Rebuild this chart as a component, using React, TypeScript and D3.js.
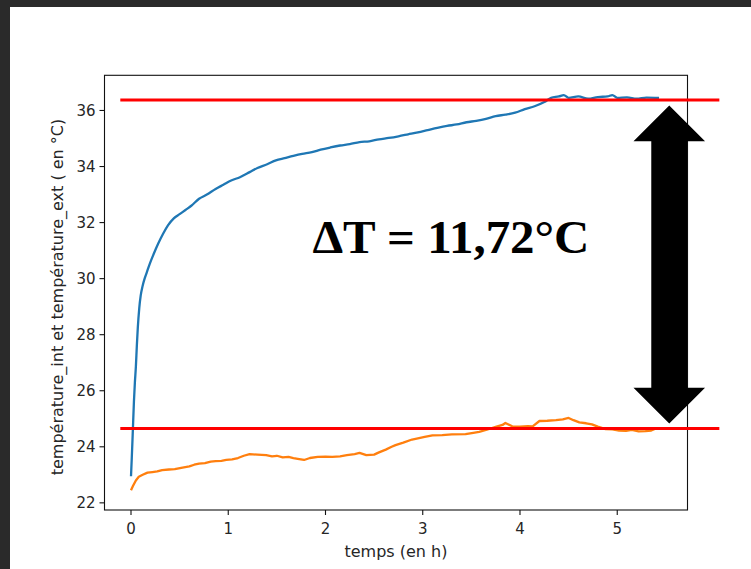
import React from "react";
import * as d3 from "d3";

const W = 751;
const H = 569;

// time (h) and temperatures (°C)
const blueT = [0, 0.008, 0.017, 0.03, 0.04, 0.05, 0.06, 0.07, 0.085, 0.1, 0.12, 0.14, 0.16, 0.19, 0.23, 0.28, 0.33, 0.38, 0.44, 0.5, 0.56, 0.62, 0.7, 0.78, 0.87, 0.95, 1.03, 1.12, 1.22, 1.3, 1.4, 1.49, 1.58, 1.67, 1.76, 1.86, 1.95, 2.05, 2.15, 2.25, 2.35, 2.45, 2.55, 2.65, 2.75, 2.85, 2.95, 3.05, 3.15, 3.25, 3.35, 3.45, 3.55, 3.65, 3.75, 3.85, 3.95, 4.05, 4.15, 4.25, 4.32, 4.4, 4.45, 4.5, 4.6, 4.7, 4.8, 4.9, 4.95, 5.0, 5.1, 5.2, 5.3, 5.43];
const blueV = [22.95, 23.6, 24.4, 25.6, 26.3, 26.85, 27.6, 28.25, 28.95, 29.4, 29.75, 30.0, 30.2, 30.5, 30.85, 31.25, 31.6, 31.9, 32.15, 32.3, 32.45, 32.6, 32.85, 33.0, 33.2, 33.35, 33.5, 33.62, 33.8, 33.95, 34.08, 34.22, 34.3, 34.38, 34.45, 34.51, 34.6, 34.68, 34.75, 34.8, 34.87, 34.9, 34.97, 35.02, 35.08, 35.15, 35.22, 35.3, 35.38, 35.45, 35.5, 35.58, 35.63, 35.7, 35.8, 35.85, 35.92, 36.05, 36.15, 36.3, 36.45, 36.5, 36.55, 36.45, 36.5, 36.42, 36.48, 36.5, 36.55, 36.45, 36.47, 36.42, 36.46, 36.45];

const orangeT = [0, 0.02, 0.05, 0.08, 0.12, 0.17, 0.22, 0.27, 0.32, 0.39, 0.45, 0.53, 0.6, 0.65, 0.7, 0.76, 0.82, 0.87, 0.93, 0.98, 1.04, 1.1, 1.16, 1.22, 1.3, 1.39, 1.45, 1.5, 1.56, 1.62, 1.67, 1.73, 1.78, 1.84, 1.92, 2.0, 2.07, 2.15, 2.22, 2.3, 2.35, 2.42, 2.5, 2.55, 2.62, 2.68, 2.72, 2.8, 2.89, 2.95, 3.02, 3.1, 3.2, 3.3, 3.44, 3.52, 3.58, 3.65, 3.75, 3.82, 3.85, 3.92, 4.0, 4.08, 4.13, 4.2, 4.28, 4.37, 4.44, 4.5, 4.55, 4.61, 4.68, 4.74, 4.8, 4.88, 4.95, 5.02, 5.09, 5.15, 5.22, 5.29, 5.35, 5.41];
const orangeV = [22.45, 22.6, 22.8, 22.93, 23.0, 23.08, 23.1, 23.12, 23.17, 23.19, 23.2, 23.26, 23.3, 23.36, 23.4, 23.42, 23.47, 23.49, 23.5, 23.53, 23.55, 23.6, 23.68, 23.74, 23.72, 23.7, 23.66, 23.68, 23.62, 23.64, 23.6, 23.56, 23.53, 23.6, 23.64, 23.65, 23.64, 23.66, 23.7, 23.74, 23.78, 23.7, 23.72, 23.8, 23.9, 24.0, 24.06, 24.15, 24.26, 24.3, 24.35, 24.41, 24.42, 24.44, 24.45, 24.5, 24.53, 24.6, 24.71, 24.78, 24.85, 24.73, 24.72, 24.74, 24.73, 24.92, 24.93, 24.95, 24.98, 25.03, 24.95, 24.87, 24.84, 24.8, 24.72, 24.63, 24.62, 24.58, 24.57, 24.6, 24.55, 24.56, 24.58, 24.67];

const xTicks = [0, 1, 2, 3, 4, 5];
const yTicks = [22, 24, 26, 28, 30, 32, 34, 36];

const redLevels = [36.37, 24.65];
const redStart = -0.11;
const redEnd = 6.05;
const deltaLabel = "ΔT = 11,72°C";

export default function App() {
  const left = 104.5, right = 687.5, top = 75.3, bottom = 510;
  const x = d3.scaleLinear().domain([-0.2725, 5.7225]).range([left, right]);
  const y = d3.scaleLinear().domain([21.745, 37.255]).range([bottom, top]);

  const blueLine = d3
    .line<[number, number]>()
    .x((d) => x(d[0]))
    .y((d) => y(d[1]))
    .curve(d3.curveMonotoneX);
  const orangeLine = d3
    .line<[number, number]>()
    .x((d) => x(d[0]))
    .y((d) => y(d[1]));

  const blue = blueT.map((t, i) => [t, blueV[i]] as [number, number]);
  const orange = orangeT.map((t, i) => [t, orangeV[i]] as [number, number]);

  // double arrow in data units
  const ax = 5.535;
  const shaftHalf = 0.185;
  const headHalf = 0.368;
  const topTip = 36.18;
  const botTip = 24.83;
  const headLen = 1.28;
  const arrowPts: [number, number][] = [
    [ax, topTip],
    [ax + headHalf, topTip - headLen],
    [ax + shaftHalf, topTip - headLen],
    [ax + shaftHalf, botTip + headLen],
    [ax + headHalf, botTip + headLen],
    [ax, botTip],
    [ax - headHalf, botTip + headLen],
    [ax - shaftHalf, botTip + headLen],
    [ax - shaftHalf, topTip - headLen],
    [ax - headHalf, topTip - headLen],
  ];
  const arrowPath = "M" + arrowPts.map((p) => `${x(p[0])},${y(p[1])}`).join("L") + "Z";

  const font = "'DejaVu Sans', sans-serif";
  const textCol = "#262626";

  return (
    <>
      <style>{"body{margin:0;background:#fff}"}</style>
      <svg width={W} height={H} style={{ display: "block" }}>
        <rect x={0} y={0} width={W} height={H} fill="#fff" />
        <rect x={0} y={0} width={W} height={7} fill="#2a2a2a" />
        <rect x={0} y={0} width={10} height={H} fill="#2a2a2a" />

        {/* data lines */}
        <path d={blueLine(blue) || ""} fill="none" stroke="#1f77b4" strokeWidth={2.3} strokeLinejoin="round" />
        <path d={orangeLine(orange) || ""} fill="none" stroke="#ff7f0e" strokeWidth={2.3} strokeLinejoin="round" />

        {/* frame */}
        <rect x={left} y={top} width={right - left} height={bottom - top} fill="none" stroke="#111" strokeWidth={1.1} />

        {/* y ticks */}
        {yTicks.map((v) => (
          <g key={"y" + v}>
            <line x1={left - 5} x2={left} y1={y(v)} y2={y(v)} stroke="#111" strokeWidth={1.1} />
            <text x={left - 9} y={y(v)} dy="0.36em" textAnchor="end" fontFamily={font} fontSize={15} fill={textCol}>
              {v}
            </text>
          </g>
        ))}
        {/* x ticks */}
        {xTicks.map((v) => (
          <g key={"x" + v}>
            <line x1={x(v)} x2={x(v)} y1={bottom} y2={bottom + 5} stroke="#111" strokeWidth={1.1} />
            <text x={x(v)} y={bottom + 24} textAnchor="middle" fontFamily={font} fontSize={15} fill={textCol}>
              {v}
            </text>
          </g>
        ))}

        <text x={(left + right) / 2} y={557} textAnchor="middle" fontFamily={font} fontSize={16} fill={textCol}>
          temps (en h)
        </text>
        <text
          transform={`translate(63,297) rotate(-90)`}
          textAnchor="middle"
          fontFamily={font}
          fontSize={16}
          fill={textCol}
        >
          température_int et température_ext ( en °C)
        </text>

        {/* red reference lines */}
        {redLevels.map((v) => (
          <line key={"r" + v} x1={x(redStart)} x2={x(redEnd)} y1={y(v)} y2={y(v)} stroke="#ff0000" strokeWidth={3} />
        ))}

        {/* arrow */}
        <path d={arrowPath} fill="#000" />

        <text
          x={x(1.866)}
          y={y(30.9)}
          fontFamily="'Liberation Serif', 'Times New Roman', serif"
          fontWeight="bold"
          fontSize={47}
          textLength={277}
          lengthAdjust="spacingAndGlyphs"
          fill="#000"
        >
          {deltaLabel}
        </text>
      </svg>
    </>
  );
}
